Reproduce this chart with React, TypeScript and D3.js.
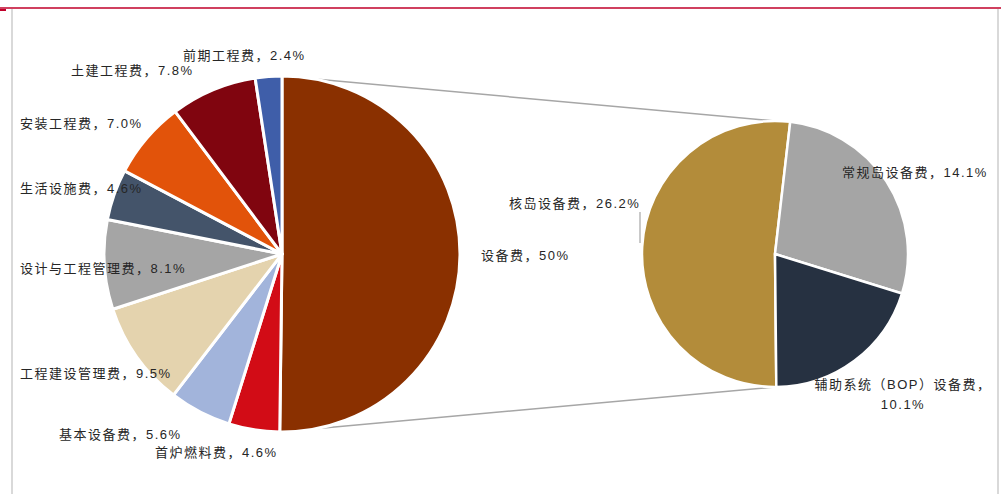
import React from "react";
import * as d3 from "d3";

// Main pie data (clockwise from 12 o'clock)
const mainCategories = ["设备费", "首炉燃料费", "基本设备费", "工程建设管理费", "设计与工程管理费", "生活设施费", "安装工程费", "土建工程费", "前期工程费"];
const mainValues = [50, 4.6, 5.6, 9.5, 8.1, 4.6, 7.0, 7.8, 2.4];
const mainLabels = ["设备费，50%", "首炉燃料费，4.6%", "基本设备费，5.6%", "工程建设管理费，9.5%", "设计与工程管理费，8.1%", "生活设施费，4.6%", "安装工程费，7.0%", "土建工程费，7.8%", "前期工程费，2.4%"];
const mainColors = ["#8A3000", "#D20C16", "#A2B4DB", "#E4D3AE", "#A5A5A5", "#44546A", "#E2530A", "#80050F", "#3F5EA9"];

// Secondary pie data (breakdown of 设备费)
const subCategories = ["核岛设备费", "常规岛设备费", "辅助系统（BOP）设备费"];
const subValues = [26.2, 14.1, 10.1];
const subLabels = [["核岛设备费，26.2%"], ["常规岛设备费，14.1%"], ["辅助系统（BOP）设备费，", "10.1%"]];
const subColors = ["#B38C3A", "#A5A5A5", "#263141"];

// Layout (label anchor points, text-anchor start)
const mainLabelPos: [number, number, string][] = [
  [481, 260, "start"], [155, 457, "start"], [59, 439, "start"], [20, 378, "start"],
  [20, 273, "start"], [20, 193, "start"], [20, 128, "start"], [71, 75, "start"], [183, 60, "start"],
];
const subLabelPos: [number, number, string][] = [
  [509, 208, "start"], [842, 177, "start"], [903, 389, "middle"],
];

export default function App() {
  const W = 1001, H = 494;
  const c1 = { x: 282, y: 254, r: 178 };
  const c2 = { x: 775, y: 254, r: 133 };

  const pie1 = d3.pie<number>().sort(null).value((d) => d)(mainValues);
  const arc1 = d3.arc<d3.PieArcDatum<number>>().innerRadius(0).outerRadius(c1.r);

  const subTotal = d3.sum(subValues);
  const goldSpan = (subValues[0] / subTotal) * 2 * Math.PI;
  const goldCenter = (273 / 180) * Math.PI;
  const start2 = goldCenter - goldSpan / 2 - 2 * Math.PI;
  const pie2 = d3.pie<number>().sort(null).value((d) => d).startAngle(start2).endAngle(start2 + 2 * Math.PI)(subValues);
  const arc2 = d3.arc<d3.PieArcDatum<number>>().innerRadius(0).outerRadius(c2.r);

  const font = "'Liberation Sans', 'Noto Sans CJK SC', sans-serif";
  const textStyle: React.CSSProperties = { fontFamily: font, fontSize: 13, letterSpacing: "1.5px", fill: "#262626" };

  // connector endpoints: edges of the 设备费 slice and top/bottom of the second pie
  const a0 = pie1[0].startAngle, a1 = pie1[0].endAngle;
  const p = (cx: number, cy: number, r: number, a: number) => [cx + r * Math.sin(a), cy - r * Math.cos(a)];
  const [t1x, t1y] = p(c1.x, c1.y, c1.r, a0);
  const [b1x, b1y] = p(c1.x, c1.y, c1.r, a1);

  return (
    <svg width={W} height={H} style={{ position: "absolute", left: 0, top: 0, background: "#fff" }}>
      {/* frame */}
      <line x1={0} x2={W} y1={8} y2={8} stroke="#C0002A" strokeWidth={1.5} />
      <line x1={0} x2={6} y1={10} y2={10} stroke="#C0002A" strokeWidth={2} />
      <line x1={12} x2={12} y1={9} y2={H} stroke="#D9D9D9" strokeWidth={2} />
      <line x1={998} x2={998} y1={9} y2={H} stroke="#D9D9D9" strokeWidth={2} />

      {/* connectors */}
      <line x1={t1x} y1={t1y} x2={c2.x} y2={c2.y - c2.r} stroke="#A6A6A6" strokeWidth={1.5} />
      <line x1={b1x} y1={b1y} x2={c2.x} y2={c2.y + c2.r} stroke="#A6A6A6" strokeWidth={1.5} />

      <g transform={`translate(${c1.x},${c1.y})`}>
        {pie1.map((d, i) => (
          <path key={mainCategories[i]} d={arc1(d) as string} fill={mainColors[i]} stroke="#fff" strokeWidth={3} strokeLinejoin="round" />
        ))}
      </g>
      <g transform={`translate(${c2.x},${c2.y})`}>
        {pie2.map((d, i) => (
          <path key={subCategories[i]} d={arc2(d) as string} fill={subColors[i]} stroke="#fff" strokeWidth={2.5} strokeLinejoin="round" />
        ))}
      </g>

      {/* leader line for 核岛设备费 */}
      <line x1={640} x2={640} y1={212} y2={243} stroke="#A6A6A6" strokeWidth={1.2} />

      {mainLabels.map((t, i) => (
        <text key={t} x={mainLabelPos[i][0]} y={mainLabelPos[i][1]} textAnchor={mainLabelPos[i][2] as any} style={textStyle}>{t}</text>
      ))}
      {subLabels.map((lines, i) => (
        <text key={subCategories[i]} x={subLabelPos[i][0]} y={subLabelPos[i][1]} textAnchor={subLabelPos[i][2] as any} style={textStyle}>
          {lines.map((l, j) => (
            <tspan key={j} x={subLabelPos[i][0]} dy={j === 0 ? 0 : 20}>{l}</tspan>
          ))}
        </text>
      ))}
    </svg>
  );
}
